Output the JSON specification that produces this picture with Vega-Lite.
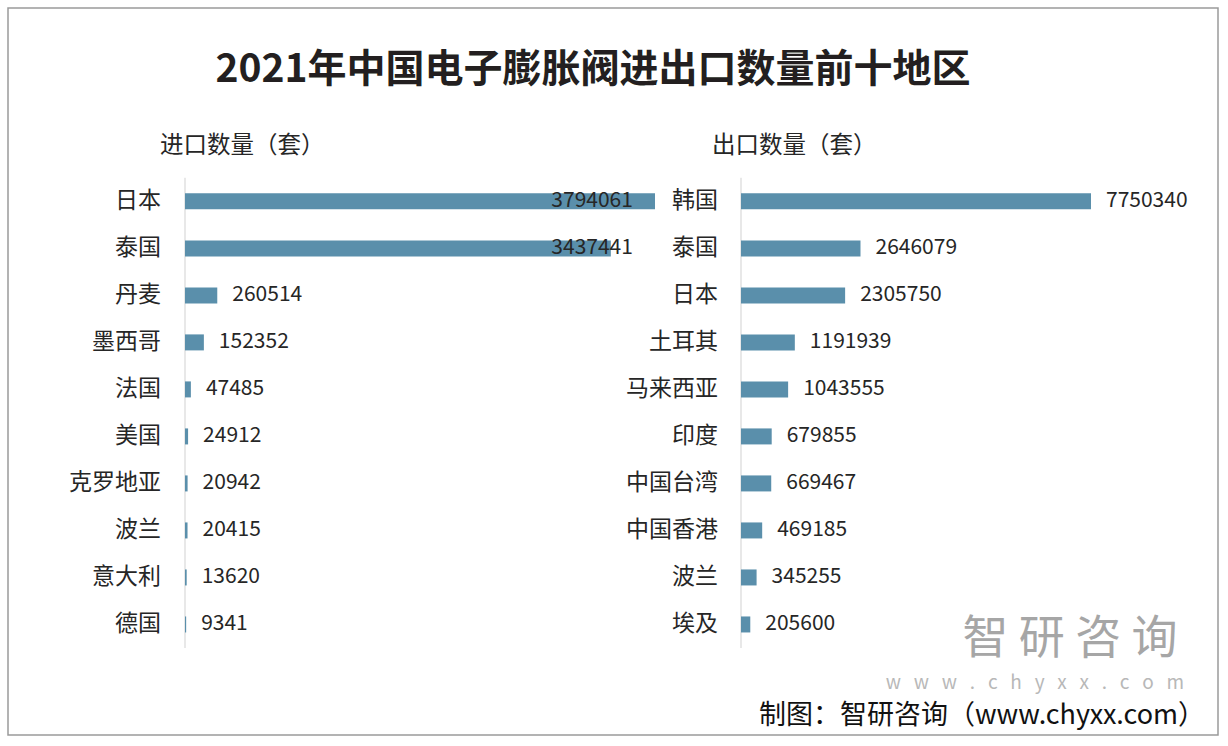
{
  "$schema": "https://vega.github.io/schema/vega-lite/v6.json",
  "width": 1228,
  "height": 746,
  "autosize": {"type": "fit", "contains": "padding"},
  "padding": {"left": 8, "top": 8, "right": 10, "bottom": 11},
  "background": "white",
  "config": {
    "view": {"stroke": "#9a9a9a", "strokeWidth": 1.5},
    "font": "Noto Sans CJK SC",
    "text": {"font": "Noto Sans CJK SC", "color": "#262626"}
  },
  "title": {
    "text": "2021年中国电子膨胀阀进出口数量前十地区",
    "fontSize": 39,
    "fontWeight": "bold",
    "color": "#231f20",
    "font": "Noto Sans CJK SC",
    "anchor": "middle",
    "frame": "group",
    "offset": -82,
    "dx": -20
  },
  "datasets": {
    "imp": [
      {"rank": 1, "region": "日本", "value": 3794061},
      {"rank": 2, "region": "泰国", "value": 3437441},
      {"rank": 3, "region": "丹麦", "value": 260514},
      {"rank": 4, "region": "墨西哥", "value": 152352},
      {"rank": 5, "region": "法国", "value": 47485},
      {"rank": 6, "region": "美国", "value": 24912},
      {"rank": 7, "region": "克罗地亚", "value": 20942},
      {"rank": 8, "region": "波兰", "value": 20415},
      {"rank": 9, "region": "意大利", "value": 13620},
      {"rank": 10, "region": "德国", "value": 9341}
    ],
    "exp": [
      {"rank": 1, "region": "韩国", "value": 7750340},
      {"rank": 2, "region": "泰国", "value": 2646079},
      {"rank": 3, "region": "日本", "value": 2305750},
      {"rank": 4, "region": "土耳其", "value": 1191939},
      {"rank": 5, "region": "马来西亚", "value": 1043555},
      {"rank": 6, "region": "印度", "value": 679855},
      {"rank": 7, "region": "中国台湾", "value": 669467},
      {"rank": 8, "region": "中国香港", "value": 469185},
      {"rank": 9, "region": "波兰", "value": 345255},
      {"rank": 10, "region": "埃及", "value": 205600}
    ]
  },
  "layer": [
    {
      "data": {"name": "imp"},
      "layer": [
        {
          "transform": [{"filter": "datum.rank == 1"}],
          "mark": {"type": "rule", "color": "#d9d9d9", "strokeWidth": 1.2},
          "encoding": {
            "x": {"datum": 0, "type": "quantitative", "axis": null, "scale": {"domain": [-1428827, 8338862], "nice": false, "zero": false}},
            "y": {"datum": 0.5, "type": "quantitative", "axis": null, "scale": {"domain": [-3.007, 12.245], "reverse": true, "nice": false, "zero": false}},
            "y2": {"datum": 10.5}
          }
        },
        {
          "mark": {"type": "bar", "color": "#5a8fab", "orient": "horizontal", "size": 16},
          "encoding": {
            "x": {"field": "value", "type": "quantitative"},
            "x2": {"datum": 0},
            "y": {"field": "rank", "type": "quantitative"}
          }
        },
        {
          "mark": {"type": "text", "align": "right", "baseline": "middle", "dx": -24, "fontSize": 23},
          "encoding": {
            "x": {"datum": 0, "type": "quantitative"},
            "y": {"field": "rank", "type": "quantitative"},
            "text": {"field": "region"}
          }
        },
        {
          "transform": [{"filter": "datum.value < 3000000"}],
          "mark": {"type": "text", "align": "left", "baseline": "middle", "dx": 15, "fontSize": 21},
          "encoding": {
            "x": {"field": "value", "type": "quantitative"},
            "y": {"field": "rank", "type": "quantitative"},
            "text": {"field": "value", "type": "quantitative", "format": "d"}
          }
        },
        {
          "transform": [{"filter": "datum.value >= 3000000"}],
          "mark": {"type": "text", "align": "right", "baseline": "middle", "fontSize": 21},
          "encoding": {
            "x": {"datum": 3616000, "type": "quantitative"},
            "y": {"field": "rank", "type": "quantitative"},
            "text": {"field": "value", "type": "quantitative", "format": "d"}
          }
        },
        {
          "transform": [{"filter": "datum.rank == 1"}],
          "mark": {"type": "text", "align": "left", "baseline": "middle", "fontSize": 23.5, "text": "进口数量（套）"},
          "encoding": {
            "x": {"datum": -201800, "type": "quantitative"},
            "y": {"datum": -0.175, "type": "quantitative"}
          }
        }
      ]
    },
    {
      "data": {"name": "exp"},
      "layer": [
        {
          "transform": [{"filter": "datum.rank == 1"}],
          "mark": {"type": "rule", "color": "#d9d9d9", "strokeWidth": 1.2},
          "encoding": {
            "x": {"datum": 0, "type": "quantitative", "axis": null, "scale": {"domain": [-16231427, 10562607], "nice": false, "zero": false}},
            "y": {"datum": 0.5, "type": "quantitative"},
            "y2": {"datum": 10.5}
          }
        },
        {
          "mark": {"type": "bar", "color": "#5a8fab", "orient": "horizontal", "size": 16},
          "encoding": {
            "x": {"field": "value", "type": "quantitative"},
            "x2": {"datum": 0},
            "y": {"field": "rank", "type": "quantitative"}
          }
        },
        {
          "mark": {"type": "text", "align": "right", "baseline": "middle", "dx": -23, "fontSize": 23},
          "encoding": {
            "x": {"datum": 0, "type": "quantitative"},
            "y": {"field": "rank", "type": "quantitative"},
            "text": {"field": "region"}
          }
        },
        {
          "mark": {"type": "text", "align": "left", "baseline": "middle", "dx": 15, "fontSize": 21},
          "encoding": {
            "x": {"field": "value", "type": "quantitative"},
            "y": {"field": "rank", "type": "quantitative"},
            "text": {"field": "value", "type": "quantitative", "format": "d"}
          }
        },
        {
          "transform": [{"filter": "datum.rank == 1"}],
          "mark": {"type": "text", "align": "left", "baseline": "middle", "fontSize": 23.5, "text": "出口数量（套）"},
          "encoding": {
            "x": {"datum": -642171, "type": "quantitative"},
            "y": {"datum": -0.175, "type": "quantitative"}
          }
        },
        {
          "transform": [{"filter": "datum.rank == 1"}],
          "mark": {"type": "text", "align": "center", "baseline": "middle", "fontSize": 46, "color": "#a6a6a6", "text": "智 研 咨 询"},
          "encoding": {
            "x": {"datum": 7285000, "type": "quantitative"},
            "y": {"datum": 10.3, "type": "quantitative"}
          }
        },
        {
          "transform": [{"filter": "datum.rank == 1"}],
          "mark": {"type": "text", "align": "center", "baseline": "middle", "fontSize": 19, "color": "#b8b8b8", "text": "w\u00a0\u00a0\u00a0w\u00a0\u00a0\u00a0w\u00a0\u00a0\u00a0.\u00a0\u00a0\u00a0c\u00a0\u00a0\u00a0h\u00a0\u00a0\u00a0y\u00a0\u00a0\u00a0x\u00a0\u00a0\u00a0x\u00a0\u00a0\u00a0.\u00a0\u00a0\u00a0c\u00a0\u00a0\u00a0o\u00a0\u00a0\u00a0m"},
          "encoding": {
            "x": {"datum": 6510000, "type": "quantitative"},
            "y": {"datum": 11.25, "type": "quantitative"}
          }
        },
        {
          "transform": [{"filter": "datum.rank == 1"}],
          "mark": {"type": "text", "align": "right", "baseline": "middle", "fontSize": 27, "color": "#111111", "text": "制图：智研咨询（www.chyxx.com）"},
          "encoding": {
            "x": {"datum": 10274700, "type": "quantitative"},
            "y": {"datum": 11.95, "type": "quantitative"}
          }
        }
      ]
    }
  ],
  "resolve": {"scale": {"x": "independent"}}
}
